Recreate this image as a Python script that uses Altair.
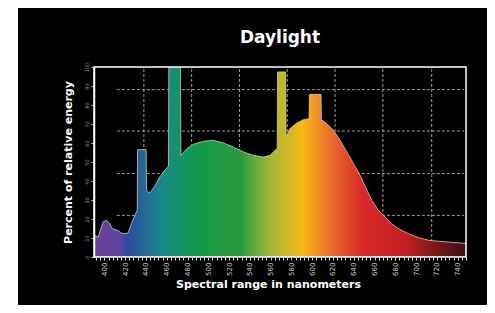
import altair as alt
import pandas as pd

# ---- data ----
wavelength = [390.0, 394.0, 398.7, 402.0, 405.2, 407.4, 413.2, 416.4, 419.6, 422.8,
              426.0, 429.3, 431.6, 431.9, 440.2, 440.5, 441.8, 443.7, 448.5, 453.3,
              458.1, 461.7, 462.0, 473.3, 473.6, 479.3, 485.7, 495.3, 504.9, 514.5,
              524.2, 533.8, 543.4, 553.0, 559.5, 564.3, 566.3, 566.6, 574.5, 574.8,
              578.7, 585.2, 591.5, 597.0, 597.3, 608.5, 608.8, 614.0, 620.4, 626.9,
              633.3, 639.7, 646.1, 651.5, 657.4, 663.7, 670.2, 676.2, 683.0, 692.6,
              702.2, 711.8, 721.5, 734.4, 748.0]
energy = [11.4, 10.5, 18.4, 19.3, 17.6, 14.9, 14.0, 12.6, 12.3, 12.6,
          17.6, 21.9, 24.6, 56.5, 56.5, 35.0, 34.2, 33.7, 37.2, 42.1,
          45.6, 47.9, 101.0, 101.0, 53.5, 57.0, 59.3, 60.9, 61.4, 60.0,
          57.9, 55.3, 53.5, 52.6, 53.5, 56.2, 57.0, 97.4, 97.4, 63.2,
          67.6, 70.5, 72.3, 72.8, 85.6, 85.6, 72.3, 70.2, 66.7, 61.4,
          55.3, 49.2, 43.0, 36.5, 29.8, 24.6, 21.0, 17.6, 14.9, 12.3,
          10.2, 8.8, 8.3, 7.7, 7.1]

x_ticks = list(range(400, 741, 20))
y_ticks = list(range(0, 101, 10))
grid_x = [438, 484, 530, 576, 622, 668, 715]
grid_y = [21.9, 43.9, 66.3, 88.1]

spectrum_nm = [390, 417, 422, 456, 489, 531, 559, 591, 617, 649, 691, 723, 748]
spectrum_col = ["#6a3f96", "#5a44a0", "#2a4aa0", "#1a8a8a", "#129a48", "#2a9a40",
                "#a0b838", "#f8b818", "#e8702a", "#d82828", "#c02020", "#701818",
                "#3a1010"]

X_MIN, X_MAX = 390, 748
W, H = 372, 190

df = pd.DataFrame({"nm": wavelength, "energy": energy})
gx = pd.DataFrame({"gx": grid_x})
gy = pd.DataFrame({"gy": grid_y})
one = pd.DataFrame({"k": [0]})

xscale = alt.Scale(domain=[X_MIN, X_MAX], nice=False, zero=False)
yscale = alt.Scale(domain=[0, 100], nice=False)

stops = [alt.GradientStop(offset=(n - X_MIN) / (X_MAX - X_MIN), color=c)
         for n, c in zip(spectrum_nm, spectrum_col)]

minor = list(range(392, 749, 4))

x_axis = alt.Axis(values=minor,
                  labelExpr="datum.value % 20 == 0 ? datum.label : ''",
                  labelOverlap=False, labelFlush=False,
                  labelAngle=270, labelFontSize=7, labelColor="#cfcfcf",
                  labelPadding=2, tickSize=3, tickColor="#dddddd",
                  domainColor="#bbbbbb", grid=False,
                  title="Spectral range in nanometers", titleColor="white",
                  titleFontSize=11, titleFont="DejaVu Sans", titleFontWeight="bold",
                  titlePadding=3, titleX=174, zindex=1)
y_axis = alt.Axis(values=y_ticks, labelOverlap=False, labelFlush=False,
                  labelAngle=270, labelFontSize=5,
                  labelColor="#9a9a9a", labelPadding=2, tickSize=3,
                  tickColor="#cccccc", domainColor="white", domainWidth=1.5,
                  grid=False, title="Percent of relative energy",
                  titleColor="white", titleFontSize=11, titleFont="DejaVu Sans",
                  titleFontWeight="bold", titlePadding=11, zindex=1)

bg = alt.Chart(one).mark_rect(color="black").encode(
    x=alt.value(-76), x2=alt.value(W + 21), y=alt.value(-59), y2=alt.value(H + 48))

title = alt.Chart(one).mark_text(text="Daylight", font="DejaVu Sans", fontWeight="bold",
                                 fontSize=17, color="white", baseline="middle",
                                 align="center").encode(
    x=alt.value(186), y=alt.value(-29))

vgrid = alt.Chart(gx).mark_rule(color="#b8b8b8", strokeDash=[3, 2], strokeWidth=1,
                                opacity=0.85).encode(
    x=alt.X("gx:Q", scale=xscale, axis=x_axis),
    y=alt.datum(0, scale=yscale, axis=y_axis), y2=alt.datum(100))

hgrid = alt.Chart(gy).mark_rule(color="#b8b8b8", strokeDash=[3, 2], strokeWidth=1,
                                opacity=0.85).encode(
    y=alt.Y("gy:Q", scale=yscale, axis=y_axis),
    x=alt.datum(412, scale=xscale, axis=x_axis), x2=alt.datum(746))

area = alt.Chart(df).mark_area(
    clip=True, interpolate="linear", stroke="#cfc8b8", strokeWidth=1, strokeOpacity=0.8,
    color=alt.Gradient(gradient="linear", stops=stops, x1=0, x2=1, y1=0, y2=0)
).encode(
    x=alt.X("nm:Q", scale=xscale, axis=x_axis),
    y=alt.Y("energy:Q", scale=yscale, axis=y_axis))

frame = alt.Chart(one).mark_rect(filled=False, stroke="white", strokeWidth=1.5).encode(
    x=alt.datum(X_MIN, scale=xscale, axis=x_axis), x2=alt.datum(X_MAX),
    y=alt.datum(0, scale=yscale, axis=y_axis), y2=alt.datum(100))

chart = alt.layer(bg, vgrid, hgrid, area, frame, title).properties(
    width=W, height=H, background="white",
    padding={"left": 10, "top": 0, "right": 0, "bottom": 0}
).configure_view(stroke=None).configure_axis(
    labelFont="DejaVu Sans", labelOverlap=False, labelFlush=False)

chart.save("out.html", embed_options={"renderer": "svg", "actions": False})
